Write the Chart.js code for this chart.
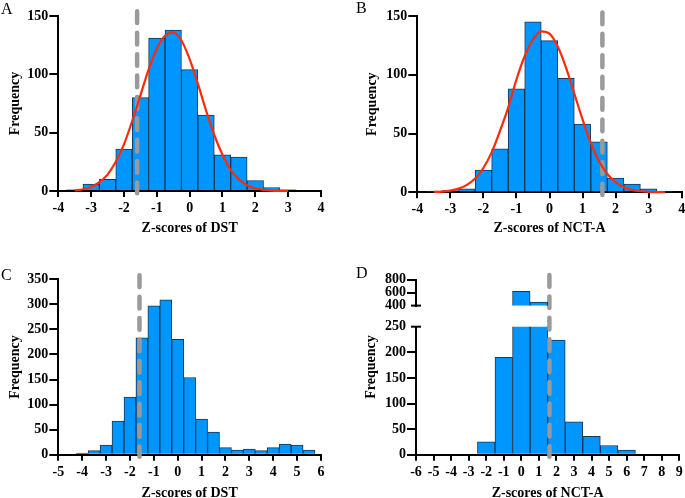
<!DOCTYPE html>
<html>
<head>
<meta charset="utf-8">
<script src="https://cdn.jsdelivr.net/npm/chart.js@4.4.1/dist/chart.umd.min.js"></script>
<style>
  html, body { margin: 0; padding: 0; background: #fff; width: 685px; height: 498px; overflow: hidden; }
  .panel { position: absolute; }
  .letter { position: absolute; font-family: 'Liberation Serif', 'Times New Roman', serif; font-size: 16px; line-height: 1; color: #000; }
  .ytitle { position: absolute; width: 80px; height: 18px; line-height: 18px; text-align: center;
            font-family: 'Liberation Serif', 'Times New Roman', serif; font-weight: bold; font-size: 14px; color: #000;
            transform: rotate(-90deg); white-space: nowrap; }
</style>
</head>
<body>
<div class="panel" id="boxA"><canvas id="chartA"></canvas></div>
<div class="panel" id="boxB"><canvas id="chartB"></canvas></div>
<div class="panel" id="boxC"><canvas id="chartC"></canvas></div>
<div class="panel" id="boxD"><canvas id="chartD"></canvas></div>
<div class="panel" id="boxDtop"><canvas id="chartDtop"></canvas></div>

<div class="letter" style="left:1px; top:0.6px">A</div>
<div class="letter" style="left:356px; top:-0.1px">B</div>
<div class="letter" style="left:1px; top:266.6px">C</div>
<div class="letter" style="left:356px; top:264.9px">D</div>
<div class="ytitle" style="left:330.8px; top:357.7px">Frequency</div>

<script>
// =======================
//  DATA
// =======================
// A: Z-scores of DST
const aBins = [-3.5, -3, -2.5, -2, -1.5, -1, -0.5, 0, 0.5, 1, 1.5, 2, 2.5, 3];
const aFreq = [1, 6, 10, 36, 80, 131, 138, 104, 65, 31, 29, 9, 3, 1];
const aCurveX = [-3.5, -3.25, -3, -2.75, -2.5, -2.25, -2, -1.75, -1.5, -1.25, -1, -0.75, -0.5, -0.25,
                 0, 0.25, 0.5, 0.75, 1, 1.25, 1.5, 1.75, 2, 2.25, 2.5, 2.75, 3];
const aCurveY = [0.5, 1.5, 3.5, 7.5, 14, 25, 40, 60, 82, 104, 122, 133, 136, 129,
                 113, 92, 69, 48, 31, 18, 10, 5, 2.3, 1, 0.4, 0.15, 0.05];
const aCut = -1.6;

// B: Z-scores of NCT-A
const bBins = [-3.5, -3, -2.5, -2, -1.5, -1, -0.5, 0, 0.5, 1, 1.5, 2, 2.5, 3, 3.5];
const bFreq = [1, 1.5, 3, 19, 37, 88, 145, 129, 97, 58, 43, 12, 7, 3, 1];
const bCurveX = [-3.5, -3.25, -3, -2.75, -2.5, -2.25, -2, -1.75, -1.5, -1.25, -1, -0.75, -0.5, -0.25,
                 0, 0.25, 0.5, 0.75, 1, 1.25, 1.5, 1.75, 2, 2.25, 2.5, 2.75, 3, 3.25, 3.5];
const bCurveY = [0.3, 0.6, 1.4, 3.1, 6.3, 11.8, 20.7, 34, 52, 72, 96, 116, 130, 137,
                 135, 124, 106, 84, 62, 42, 26.5, 15.6, 8.6, 4.4, 2.1, 0.9, 0.4, 0.15, 0.05];
const bCut = 1.6;

// C: Z-scores of DST (second sample)
const cBins = [-4, -3.5, -3, -2.5, -2, -1.5, -1, -0.5, 0, 0.5, 1, 1.5, 2, 2.5, 3, 3.5, 4, 4.5, 5, 5.5];
const cFreq = [3, 8, 19, 67, 115, 233, 297, 309, 230, 154, 71, 45, 14, 9, 11, 8, 14, 21, 19, 9];
const cCut = -1.6;

// D: Z-scores of NCT-A (second sample), broken y axis
const dBins = [-2, -1, 0, 1, 2, 3, 4, 5, 6];
const dFreq = [25, 190, 620, 455, 224, 64, 36, 18, 9];
const dCut = 1.6;

// axis ranges: [min, max, step]
const abX = [-4, 4, 1];
const abY = [0, 150, 50];
const cX = [-5, 6, 1];
const cY = [0, 350, 50];
const dX = [-6, 9, 1];
const dYLow = [0, 250, 50];
const dYHigh = [400, 800, 200];

// =======================
//  STYLE
// =======================
Chart.defaults.font.family = "'Liberation Serif', 'Times New Roman', serif";
Chart.defaults.font.size = 12;
Chart.defaults.font.weight = 'bold';
Chart.defaults.color = '#000';
Chart.defaults.animation = false;

const TICK_FONT = { family: "'Liberation Serif', 'Times New Roman', serif", size: 14, weight: 'bold' };
const TITLE_FONT = { family: "'Liberation Serif', 'Times New Roman', serif", size: 14, weight: 'bold' };
const BAR_FILL = '#0096ff';
const BAR_EDGE = '#1c3550';
const CURVE = '#ff2a0a';
const CUT = '#9a9a9a';

// =======================
//  HELPERS
// =======================
function place(id, box) {
  const el = document.getElementById(id);
  el.style.left = box.left + 'px';
  el.style.top = box.top + 'px';
  el.style.width = box.w + 'px';
  el.style.height = box.h + 'px';
}

function xAxis(range, height, title, show) {
  return {
    type: 'linear', min: range[0], max: range[1], offset: false, display: show, z: 1,
    afterFit: s => { s.height = height; },
    border: { display: true, color: '#000', width: 2 },
    grid: { display: true, drawOnChartArea: false, offset: false, color: '#000', lineWidth: 2, tickLength: 6 },
    ticks: { stepSize: range[2], padding: 3, autoSkip: false, maxRotation: 0, color: '#000', font: TICK_FONT },
    title: { display: !!title, text: title || '', color: '#000', font: TITLE_FONT, padding: { top: 0, bottom: 8.3 } }
  };
}

function yAxis(range, width, title, titlePad, capValue) {
  return {
    type: 'linear', min: range[0], max: range[1], z: 1,
    afterFit: s => { s.width = width; },
    border: { display: true, color: '#000', width: 2 },
    grid: {
      display: true, drawOnChartArea: false, lineWidth: 2, tickLength: 9,
      color: '#000',
      tickColor: ctx => (ctx.tick && ctx.tick.value === capValue) ? 'rgba(0,0,0,0)' : '#000'
    },
    ticks: { stepSize: range[2], padding: 1, autoSkip: false, color: '#000', font: TICK_FONT },
    title: { display: !!title, text: title || '', color: '#000', font: TITLE_FONT, padding: { top: titlePad, bottom: 0 } }
  };
}

function histSets(bins, freq, cut, cutTop, cutBottom, curveX, curveY) {
  const sets = [{
    type: 'bar',
    data: bins.map((x, i) => ({ x: x, y: freq[i] })),
    backgroundColor: BAR_FILL, borderColor: BAR_EDGE, borderWidth: 1,
    barPercentage: 1, categoryPercentage: 1, clip: 0, order: 3
  }];
  if (cut !== null) {
    sets.push({
      type: 'line',
      data: [{ x: cut, y: cutTop }, { x: cut, y: cutBottom }],
      borderColor: CUT, borderWidth: 4.5, borderDash: [11.7, 9.7], borderCapStyle: 'round',
      pointRadius: 0, clip: false, order: 2
    });
  }
  if (curveX) {
    sets.push({
      type: 'line',
      data: curveX.map((x, i) => ({ x: x, y: curveY[i] })),
      borderColor: CURVE, borderWidth: 2.2, cubicInterpolationMode: 'monotone',
      pointRadius: 0, clip: false, order: 1
    });
  }
  return sets;
}

// small T-caps where the y axis is broken
const breakCap = {
  id: 'breakCap',
  afterDraw(chart, args, opts) {
    if (!opts.edge) return;
    const a = chart.chartArea;
    const y = opts.edge === 'top' ? a.top : a.bottom;
    const ctx = chart.ctx;
    ctx.save();
    ctx.strokeStyle = '#000';
    ctx.lineWidth = 2;
    ctx.beginPath();
    ctx.moveTo(a.left - 5, y);
    ctx.lineTo(a.left + 5, y);
    ctx.stroke();
    ctx.restore();
  }
};

function makeChart(id, box, area, datasets, xCfg, yCfg, cap) {
  place('box' + id, box);
  const showX = xCfg.display !== false;
  return new Chart(document.getElementById('chart' + id), {
    type: 'bar',
    data: { datasets: datasets },
    options: {
      responsive: true,
      maintainAspectRatio: false,
      layout: { padding: { left: 0, top: area.t, right: box.w - area.r, bottom: showX ? 0 : box.h - area.b } },
      scales: { x: xCfg, y: yCfg },
      plugins: { legend: { display: false }, tooltip: { enabled: false }, breakCap: { edge: cap || null } }
    },
    plugins: [breakCap]
  });
}

// =======================
//  PANELS
// =======================
const boxA = { left: 0, top: 0, w: 340, h: 245 };
const areaA = { l: 58.3, t: 16, r: 321, b: 191 };
makeChart('A', boxA, areaA,
  histSets(aBins, aFreq, aCut, 154, -2, aCurveX, aCurveY),
  xAxis(abX, boxA.h - areaA.b, 'Z-scores of DST', true),
  yAxis(abY, areaA.l, 'Frequency', 6.6));

const boxB = { left: 340, top: 0, w: 360, h: 245 };
const areaB = { l: 77.3, t: 16, r: 341.7, b: 192.3 };
makeChart('B', boxB, areaB,
  histSets(bBins, bFreq, bCut, 153, -2.3, bCurveX, bCurveY),
  xAxis(abX, boxB.h - areaB.b, 'Z-scores of NCT-A', true),
  yAxis(abY, areaB.l, 'Frequency', 24.1));

const boxC = { left: 0, top: 245, w: 340, h: 265 };
const areaC = { l: 58.3, t: 34.3, r: 321, b: 209.7 };
makeChart('C', boxC, areaC,
  histSets(cBins, cFreq, cCut, 358, -4),
  xAxis(cX, boxC.h - areaC.b, 'Z-scores of DST', true),
  yAxis(cY, areaC.l, 'Frequency', 6.6));

const boxD = { left: 340, top: 245, w: 360, h: 265 };
const areaD = { l: 76, t: 81.7, r: 339.3, b: 209.7 };
makeChart('D', boxD, areaD,
  histSets(dBins, dFreq, dCut, 351, -3.9),
  xAxis(dX, boxD.h - areaD.b, 'Z-scores of NCT-A', true),
  yAxis(dYLow, areaD.l, '', 0, dYLow[1]), 'top');

const boxDtop = { left: 340, top: 245, w: 360, h: 70 };
const areaDtop = { l: 76, t: 34.7, r: 339.3, b: 66.7 };
makeChart('Dtop', boxDtop, areaDtop,
  histSets(dBins, dFreq, null),
  xAxis(dX, 0, '', false),
  yAxis(dYHigh, areaDtop.l, '', 0, dYHigh[0]), 'bottom');
</script>
</body>
</html>
